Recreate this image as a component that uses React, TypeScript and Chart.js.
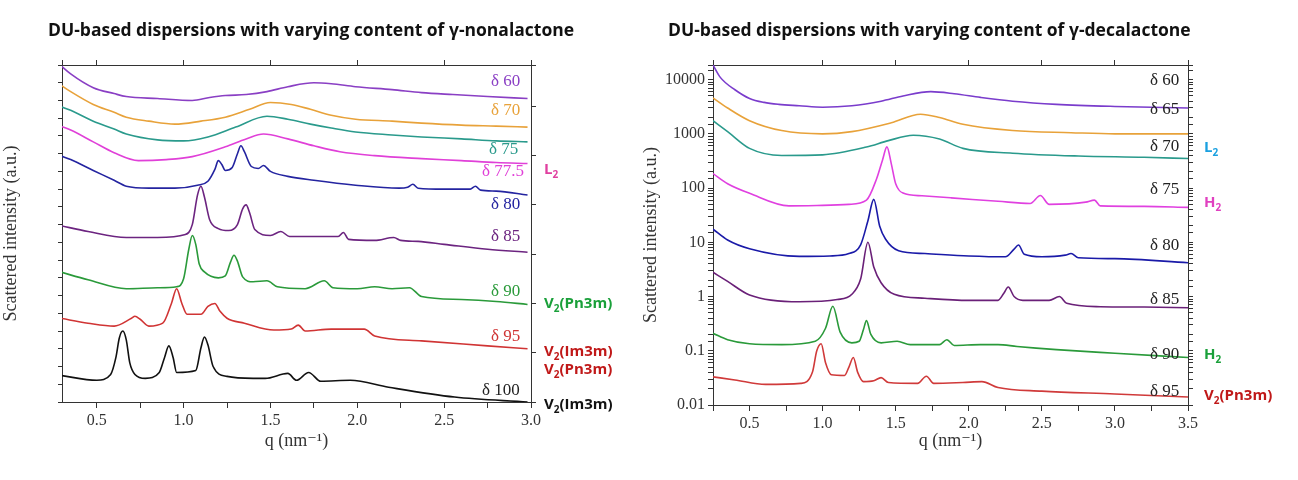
import React, { useEffect, useRef } from "react";
import { Chart, registerables } from "chart.js";
Chart.register(...registerables);

// ---------- Left panel (γ-nonalactone), offset arbitrary units ----------
const L_d60_q = [0.29, 0.35, 0.48, 0.6, 0.67, 0.85, 1.05, 1.15, 1.24, 1.36, 1.48, 1.6, 1.75, 1.85, 1.99, 2.2, 2.37, 2.55, 2.75, 2.98];
const L_d60_v = [342, 333, 319, 313, 310, 308, 306, 309, 311, 312, 315, 320, 324, 323, 320, 317, 314, 312, 310, 308];
const L_d70_q = [0.29, 0.35, 0.48, 0.6, 0.67, 0.8, 0.95, 1.1, 1.24, 1.38, 1.5, 1.62, 1.73, 1.85, 1.99, 2.2, 2.37, 2.6, 2.8, 2.98];
const L_d70_v = [322, 315, 302, 294, 289, 285, 282, 285, 289, 297, 304, 302, 297, 291, 287, 285, 283, 281, 280, 279];
const L_d75_q = [0.29, 0.35, 0.48, 0.6, 0.67, 0.85, 1.0, 1.14, 1.3, 1.48, 1.6, 1.73, 1.85, 1.99, 2.2, 2.37, 2.6, 2.8, 2.98];
const L_d75_v = [300, 296, 285, 277, 272, 266, 265, 269, 279, 290, 287, 282, 278, 274, 271, 269, 267, 265, 264];
const L_d775_q = [0.29, 0.35, 0.48, 0.6, 0.74, 0.9, 1.05, 1.24, 1.36, 1.46, 1.6, 1.75, 1.9, 2.1, 2.37, 2.6, 2.8, 2.98];
const L_d775_v = [280, 276, 264, 253, 245, 246, 249, 259, 267, 272, 267, 260, 254, 250, 247, 245, 243, 242];
const L_d80_q = [0.29, 0.35, 0.48, 0.6, 0.67, 0.8, 0.95, 1.08, 1.14, 1.18, 1.2, 1.22, 1.24, 1.28, 1.31, 1.33, 1.35, 1.39, 1.43, 1.46, 1.5, 1.6, 1.75, 1.99, 2.24, 2.29, 2.32, 2.35, 2.5, 2.65, 2.68, 2.71, 2.8, 2.98];
const L_d80_v = [250, 246, 235, 225, 219, 217, 217, 220, 224, 236, 245, 241, 235, 238, 252, 260, 254, 239, 237, 240, 234, 229, 225, 220, 217, 218, 221, 217, 216, 216, 219, 215, 214, 210];
const L_d85_q = [0.29, 0.45, 0.67, 0.85, 1.01, 1.05, 1.08, 1.1, 1.12, 1.15, 1.2, 1.26, 1.31, 1.34, 1.36, 1.38, 1.41, 1.5, 1.56, 1.61, 1.75, 1.89, 1.92, 1.95, 2.1, 2.21, 2.25, 2.35, 2.5, 2.75, 2.98];
const L_d85_v = [179, 173, 167, 167, 170, 180, 210, 219, 208, 185, 176, 174, 180, 196, 200, 192, 175, 169, 173, 168, 168, 168, 172, 165, 164, 167, 164, 163, 160, 155, 152];
const L_d90_q = [0.29, 0.45, 0.67, 0.85, 0.96, 1.0, 1.03, 1.05, 1.07, 1.09, 1.12, 1.2, 1.24, 1.27, 1.29, 1.31, 1.34, 1.4, 1.48, 1.54, 1.7, 1.81, 1.86, 2.0, 2.1, 2.2, 2.3, 2.37, 2.6, 2.8, 2.98];
const L_d90_v = [132, 124, 115, 116, 117, 125, 155, 169, 160, 140, 132, 126, 128, 142, 149, 143, 127, 122, 123, 117, 115, 123, 116, 115, 117, 115, 116, 107, 104, 102, 99];
const L_d95_q = [0.29, 0.45, 0.6, 0.7, 0.72, 0.75, 0.8, 0.88, 0.93, 0.96, 0.99, 1.02, 1.05, 1.1, 1.14, 1.18, 1.21, 1.25, 1.35, 1.52, 1.62, 1.66, 1.7, 1.85, 1.95, 2.04, 2.1, 2.37, 2.75, 2.98];
const L_d95_v = [85, 80, 77, 85, 87, 84, 77, 80, 100, 115, 100, 89, 89, 89, 97, 100, 92, 85, 80, 73, 74, 78, 72, 74, 74, 74, 67, 62, 57, 54];
const L_d100_q = [0.29, 0.5, 0.58, 0.61, 0.63, 0.65, 0.67, 0.69, 0.72, 0.78, 0.86, 0.89, 0.915, 0.94, 0.96, 1.07, 1.1, 1.12, 1.14, 1.17, 1.25, 1.4, 1.47, 1.6, 1.65, 1.72, 1.79, 1.96, 2.18, 2.56, 2.98];
const L_d100_v = [27, 22, 28, 45, 65, 72, 63, 40, 28, 24, 30, 45, 57, 45, 30, 32, 55, 66, 58, 36, 26, 24, 24, 29, 22, 30, 21, 22, 15, 5, 0];

// ---------- Right panel (γ-decalactone), log intensities ----------
const R_d60_q = [0.25, 0.3, 0.4, 0.5, 0.6, 0.7, 0.84, 1.0, 1.2, 1.4, 1.55, 1.74, 1.9, 2.08, 2.3, 2.6, 3.0, 3.5];
const R_d60_v = [18600, 11000, 6500, 4500, 3800, 3500, 3300, 3100, 3300, 4000, 5000, 6000, 5500, 4700, 4000, 3500, 3200, 3000];
const R_d65_q = [0.25, 0.35, 0.5, 0.72, 1.0, 1.2, 1.47, 1.67, 1.8, 1.96, 2.3, 2.7, 3.0, 3.5];
const R_d65_v = [4600, 3000, 1750, 1150, 1000, 1100, 1600, 2300, 2000, 1500, 1150, 1050, 1000, 1000];
const R_d70_q = [0.25, 0.35, 0.5, 0.72, 1.0, 1.3, 1.45, 1.62, 1.8, 1.96, 2.3, 2.75, 3.2, 3.5];
const R_d70_v = [1750, 1100, 540, 400, 410, 570, 750, 940, 800, 540, 440, 390, 370, 350];
const R_d75_q = [0.25, 0.35, 0.5, 0.77, 1.0, 1.18, 1.3, 1.37, 1.41, 1.44, 1.47, 1.5, 1.55, 1.68, 1.88, 2.2, 2.42, 2.49, 2.55, 2.8, 2.86, 2.9, 3.2, 3.5];
const R_d75_v = [185, 120, 80, 47, 48, 50, 60, 150, 330, 575, 280, 120, 81, 72, 66, 57, 52, 73, 50, 55, 60, 47, 46, 44];
const R_d80_q = [0.25, 0.35, 0.5, 0.84, 1.05, 1.18, 1.26, 1.31, 1.35, 1.39, 1.43, 1.52, 1.7, 2.0, 2.25, 2.31, 2.34, 2.38, 2.5, 2.66, 2.7, 2.75, 3.0, 3.5];
const R_d80_v = [17.5, 11, 7.6, 5.5, 5.6, 6.2, 9, 25, 62, 20, 11.5, 7, 6.2, 5.6, 5.4, 7.5, 8.9, 6, 5.4, 5.8, 6.2, 5.2, 5, 4.2];
const R_d85_q = [0.25, 0.35, 0.5, 0.84, 1.1, 1.2, 1.26, 1.31, 1.35, 1.4, 1.49, 1.7, 2.0, 2.2, 2.24, 2.27, 2.31, 2.37, 2.55, 2.62, 2.67, 2.9, 3.2, 3.5];
const R_d85_v = [2.8, 1.9, 1.07, 0.8, 0.88, 1.1, 2.1, 10, 3.5, 1.8, 1.1, 0.93, 0.85, 0.85, 1.15, 1.5, 1.0, 0.85, 0.85, 1.0, 0.75, 0.65, 0.64, 0.62];
const R_d90_q = [0.25, 0.35, 0.5, 0.72, 0.95, 1.02, 1.07, 1.12, 1.2, 1.25, 1.28, 1.3, 1.33, 1.4, 1.51, 1.6, 1.8, 1.85, 1.9, 2.08, 2.2, 2.33, 2.6, 3.0, 3.5];
const R_d90_v = [0.21, 0.16, 0.135, 0.13, 0.15, 0.26, 0.66, 0.22, 0.14, 0.15, 0.25, 0.36, 0.2, 0.14, 0.15, 0.13, 0.13, 0.16, 0.125, 0.13, 0.13, 0.12, 0.105, 0.09, 0.075];
const R_d95_q = [0.25, 0.4, 0.61, 0.85, 0.93, 0.96, 0.99, 1.02, 1.06, 1.15, 1.18, 1.21, 1.24, 1.28, 1.35, 1.4, 1.45, 1.65, 1.71, 1.76, 1.96, 2.09, 2.2, 2.5, 3.0, 3.5];
const R_d95_v = [0.033, 0.029, 0.024, 0.025, 0.04, 0.1, 0.135, 0.06, 0.036, 0.035, 0.05, 0.075, 0.04, 0.027, 0.028, 0.032, 0.026, 0.025, 0.034, 0.025, 0.026, 0.027, 0.021, 0.018, 0.016, 0.014];

const xTicksLeft = [0.5, 1.0, 1.5, 2.0, 2.5, 3.0];
const xTicksRight = [0.5, 1.0, 1.5, 2.0, 2.5, 3.0, 3.5];

const zip = (q: number[], v: number[]) => q.map((x, i) => ({ x, y: v[i] }));

const leftSeries = [
  { q: L_d60_q, v: L_d60_v, c: "#8a3fc4" },
  { q: L_d70_q, v: L_d70_v, c: "#e8a23a" },
  { q: L_d75_q, v: L_d75_v, c: "#2a9a8c" },
  { q: L_d775_q, v: L_d775_v, c: "#e040d8" },
  { q: L_d80_q, v: L_d80_v, c: "#2424a0" },
  { q: L_d85_q, v: L_d85_v, c: "#6c2480" },
  { q: L_d90_q, v: L_d90_v, c: "#2a9a3a" },
  { q: L_d95_q, v: L_d95_v, c: "#d03434" },
  { q: L_d100_q, v: L_d100_v, c: "#111111" },
];
const rightSeries = [
  { q: R_d60_q, v: R_d60_v, c: "#7a3ccc" },
  { q: R_d65_q, v: R_d65_v, c: "#e8a23a" },
  { q: R_d70_q, v: R_d70_v, c: "#2a9a8c" },
  { q: R_d75_q, v: R_d75_v, c: "#e040e0" },
  { q: R_d80_q, v: R_d80_v, c: "#1a1aa8" },
  { q: R_d85_q, v: R_d85_v, c: "#6a2078" },
  { q: R_d90_q, v: R_d90_v, c: "#2a9a3a" },
  { q: R_d95_q, v: R_d95_v, c: "#d03a3a" },
];

const serif = "'Liberation Serif', 'DejaVu Serif', serif";
const tickFont = { family: serif, size: 16 };

function frame(id: string, pos: "top" | "right", type: string, extra: any) {
  return {
    [id]: {
      type,
      position: pos,
      ...extra,
      ticks: { display: false },
      grid: { drawOnChartArea: false, tickLength: 5, color: "#333" },
      border: { color: "#333", width: 1 },
    },
  };
}

function makeChart(canvas: HTMLCanvasElement, side: "L" | "R") {
  const series = side === "L" ? leftSeries : rightSeries;
  const xmin = side === "L" ? 0.3 : 0.25;
  const xmax = side === "L" ? 3.0 : 3.5;
  const ticksArr = side === "L" ? xTicksLeft : xTicksRight;
  const yLog = side === "R";
  const yOpts: any = yLog
    ? { type: "logarithmic", min: 0.01, max: 18600 }
    : { type: "linear", min: 0, max: 342 };
  return new Chart(canvas, {
    type: "line",
    data: {
      datasets: series.map((s) => ({
        data: zip(s.q, s.v),
        borderColor: s.c,
        borderWidth: 1.6,
        pointRadius: 0,
        cubicInterpolationMode: "monotone",
        fill: false,
      })),
    },
    options: {
      animation: false,
      responsive: false,
      maintainAspectRatio: false,
      plugins: { legend: { display: false }, tooltip: { enabled: false } },
      layout: {
        padding: side === "L" ? { left: 0, right: 104, top: 60, bottom: 24 } : { left: 0, right: 105, top: 60, bottom: 24 },
      },
      scales: {
        x: {
          type: "linear",
          min: xmin,
          max: xmax,
          afterBuildTicks: (sc: any) => {
            const t: any[] = [];
            for (let i = 0; i < 30; i++) {
              const v = Math.round((0.25 * i) * 100) / 100;
              if (v >= xmin - 1e-9 && v <= xmax + 1e-9) t.push({ value: v });
            }
            sc.ticks = t;
          },
          afterFit: (sc: any) => { sc.height = side === "L" ? 54 : 51; },
          ticks: {
            font: tickFont,
            color: "#333",
            maxRotation: 0,
            autoSkip: false,
            callback: (v: any) => (ticksArr.some((t) => Math.abs(t - v) < 1e-6) ? Number(v).toFixed(1) : ""),
          },
          grid: { drawOnChartArea: false, tickLength: 6, color: "#333" },
          border: { color: "#333", width: 1 },
          title: { display: true, text: "q (nm⁻¹)", font: { family: serif, size: 18 }, color: "#333", padding: { top: 2 } },
        },
        y: {
          ...yOpts,
          afterFit: (sc: any) => { sc.width = side === "L" ? 62 : 73; },
          ticks: yLog
            ? {
                font: tickFont,
                color: "#333",
                autoSkip: false,
                callback: (v: any) => {
                  const l = Math.log10(v);
                  return Math.abs(l - Math.round(l)) < 1e-6 ? String(Number(v)) : "";
                },
              }
            : { stepSize: 9, callback: () => "" },
          grid: { drawOnChartArea: false, tickLength: yLog ? 5 : 4, color: "#333" },
          border: { color: "#333", width: 1 },
          title: { display: true, text: "Scattered intensity (a.u.)", font: { family: serif, size: 18 }, color: "#333", padding: 0 },
        },
        ...frame("xt", "top", "linear", { min: xmin, max: xmax }),
        ...frame("yr", "right", yLog ? "logarithmic" : "linear", yLog ? { min: 0.01, max: 18600 } : { min: 0, max: 342 }),
      } as any,
    },
  } as any);
}

const lbl = (text: string, x: number, y: number, color: string) => (
  <div key={text + y} style={{ position: "absolute", left: x, top: y, color, font: `17px ${serif}`, whiteSpace: "nowrap", lineHeight: "18px" }}>{text}</div>
);
const phase = (main: string, sub: string, tail: string, x: number, y: number, color: string) => (
  <div key={main + sub + tail + y} style={{ position: "absolute", left: x, top: y, color, fontFamily: "'Open Sans', sans-serif", fontWeight: 700, fontSize: 15, whiteSpace: "nowrap", lineHeight: "16px" }}>
    {main}<sub style={{ fontSize: 10 }}>{sub}</sub>{tail}
  </div>
);

export default function App() {
  const lRef = useRef<HTMLCanvasElement>(null);
  const rRef = useRef<HTMLCanvasElement>(null);
  useEffect(() => {
    const a = makeChart(lRef.current!, "L");
    const b = makeChart(rRef.current!, "R");
    return () => { a.destroy(); b.destroy(); };
  }, []);
  const title = { position: "absolute" as const, top: 17, fontFamily: "'Open Sans', sans-serif", fontWeight: 700, fontSize: 17.5, color: "#111", whiteSpace: "nowrap" as const };
  return (
    <div style={{ position: "absolute", left: 0, top: 0, width: 1298, height: 480, background: "#fff", overflow: "hidden" }}>
      <canvas ref={lRef} width={640} height={480} style={{ position: "absolute", left: 0, top: 0, width: 640, height: 480 }} />
      <canvas ref={rRef} width={658} height={480} style={{ position: "absolute", left: 640, top: 0, width: 658, height: 480 }} />
      <div style={{ ...title, left: 48 }}>DU-based dispersions with varying content of γ-nonalactone</div>
      <div style={{ ...title, left: 668 }}>DU-based dispersions with varying content of γ-decalactone</div>
      {lbl("δ 60", 491, 72, "#8a3fc4")}
      {lbl("δ 70", 491, 101, "#e8a23a")}
      {lbl("δ 75", 489, 140, "#2a9a8c")}
      {lbl("δ 77.5", 482, 162, "#e040d8")}
      {lbl("δ 80", 491, 195, "#2424a0")}
      {lbl("δ 85", 491, 227, "#6c2480")}
      {lbl("δ 90", 491, 282, "#2a9a3a")}
      {lbl("δ 95", 491, 327, "#d03434")}
      {lbl("δ 100", 482, 381, "#222")}
      {phase("L", "2", "", 544, 160, "#e040a0")}
      {phase("V", "2", "(Pn3m)", 544, 294, "#1aa03a")}
      {phase("V", "2", "(Im3m)", 544, 342, "#c01818")}
      {phase("V", "2", "(Pn3m)", 544, 360, "#c01818")}
      {phase("V", "2", "(Im3m)", 544, 395, "#111")}
      {lbl("δ 60", 1150, 71, "#222")}
      {lbl("δ 65", 1150, 100, "#222")}
      {lbl("δ 70", 1150, 137, "#222")}
      {lbl("δ 75", 1150, 180, "#222")}
      {lbl("δ 80", 1150, 236, "#222")}
      {lbl("δ 85", 1150, 290, "#222")}
      {lbl("δ 90", 1150, 345, "#222")}
      {lbl("δ 95", 1150, 382, "#222")}
      {phase("L", "2", "", 1204, 138, "#1aa0e0")}
      {phase("H", "2", "", 1204, 193, "#e040c0")}
      {phase("H", "2", "", 1204, 345, "#1aa03a")}
      {phase("V", "2", "(Pn3m)", 1204, 386, "#c01818")}
    </div>
  );
}
